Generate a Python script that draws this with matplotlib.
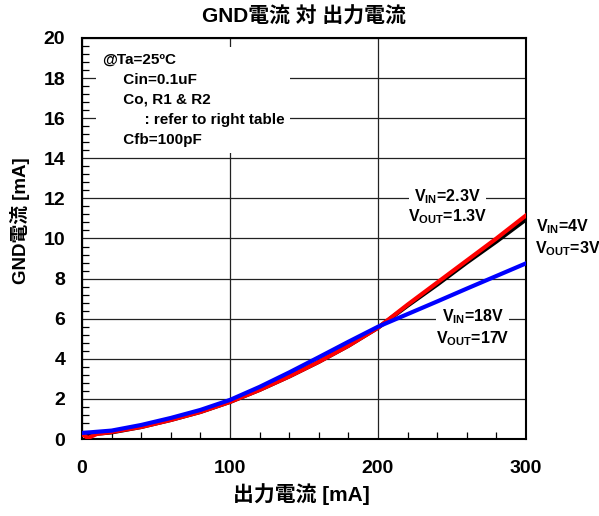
import numpy as np
import matplotlib
matplotlib.use("Agg")
import matplotlib.pyplot as plt
from matplotlib.ticker import MultipleLocator

plt.rcParams['font.family'] = ['Liberation Sans', 'Noto Sans CJK JP']
plt.rcParams['font.weight'] = 'bold'
plt.rcParams['mathtext.fontset'] = 'custom'
plt.rcParams['mathtext.rm'] = 'Liberation Sans:bold'
plt.rcParams['mathtext.bf'] = 'Liberation Sans:bold'

# output current [mA] vs GND current [mA]
iout_black = [0, 20, 40, 60, 80, 100, 120, 140, 160, 180, 200, 220, 240, 260, 280, 300]
gnd_black = [0.2, 0.33, 0.6, 0.95, 1.35, 1.85, 2.45, 3.12, 3.85, 4.65, 5.55, 6.65, 7.7, 8.8, 9.85, 10.95]

iout_red = [0, 4, 10, 20, 40, 60, 80, 100, 120, 140, 160, 180, 200, 220, 240, 260, 280, 300]
gnd_red = [0.25, 0.05, 0.25, 0.35, 0.6, 0.95, 1.35, 1.85, 2.45, 3.12, 3.85, 4.65, 5.55, 6.7, 7.8, 8.9, 10.0, 11.15]

iout_blue = [0, 20, 40, 60, 80, 100, 120, 140, 160, 180, 200, 220, 240, 260, 280, 300]
gnd_blue = [0.3, 0.42, 0.7, 1.05, 1.45, 1.95, 2.6, 3.32, 4.08, 4.85, 5.6, 6.23, 6.86, 7.5, 8.13, 8.76]

fig = plt.figure(figsize=(5.99, 5.16), dpi=100)
ax = fig.add_axes([0.1369, 0.1492, 0.7412, 0.7772])

ax.plot(iout_black, gnd_black, color="black", lw=3, zorder=3)
ax.plot(iout_red, gnd_red, color="#ff0000", lw=3, zorder=4)
ax.plot(iout_blue, gnd_blue, color="#0000ff", lw=3, zorder=5)

ax.set_xlim(0, 300)
ax.set_ylim(0, 20)
ax.xaxis.set_major_locator(MultipleLocator(100))
ax.yaxis.set_major_locator(MultipleLocator(2))
ax.xaxis.set_minor_locator(MultipleLocator(20))
ax.yaxis.set_minor_locator(MultipleLocator(0.4))
ax.grid(True, which="major", color="#222222", lw=0.9, zorder=1)
ax.tick_params(which="both", direction="in", labelsize=14)
ax.tick_params(which="major", length=0)
ax.tick_params(which="minor", length=5, width=0.9)
ax.tick_params(axis="x", pad=15)
ax.tick_params(axis="y", pad=12)
for s in ax.spines.values():
    s.set_linewidth(1.5)

ax.set_title("GND電流 対 出力電流", fontsize=15, fontweight="bold", pad=11)
ax.set_xlabel("出力電流 [mA]", fontsize=15, fontweight="bold")
ax.set_ylabel("GND電流 [mA]", fontsize=13.5, fontweight="bold")
ax.xaxis.set_label_coords(0.495, -0.11)
ax.yaxis.set_label_coords(-0.117, 0.544)

cond = ("@Ta=25ºC\n     Cin=0.1uF\n     Co, R1 & R2\n"
        "          : refer to right table\n     Cfb=100pF")
ax.text(0.045, 0.963, cond, transform=ax.transAxes, fontsize=11,
        fontweight="bold", va="top", ha="left", linespacing=1.55,
        bbox=dict(facecolor="white", edgecolor="none", pad=4), zorder=2)

lab = dict(fontsize=11.5, fontweight="bold", ha="center", va="center", zorder=2)
wb = dict(facecolor="white", edgecolor="none", pad=4)
ax.text(247, 12.1, r"$\mathbf{V_{IN}}$=2.3V", bbox=wb, **lab)
ax.text(247, 11.1, r"$\mathbf{V_{OUT}}$=1.3V", **lab)
ax.text(325, 10.6, r"$\mathbf{V_{IN}}$=4V", clip_on=False, **lab)
ax.text(328, 9.5, r"$\mathbf{V_{OUT}}$=3V", clip_on=False, **lab)
ax.text(264, 6.1, r"$\mathbf{V_{IN}}$=18V", bbox=wb, **lab)
ax.text(264, 5.0, r"$\mathbf{V_{OUT}}$=17V", **lab)

fig.savefig("out.png", dpi=100)
